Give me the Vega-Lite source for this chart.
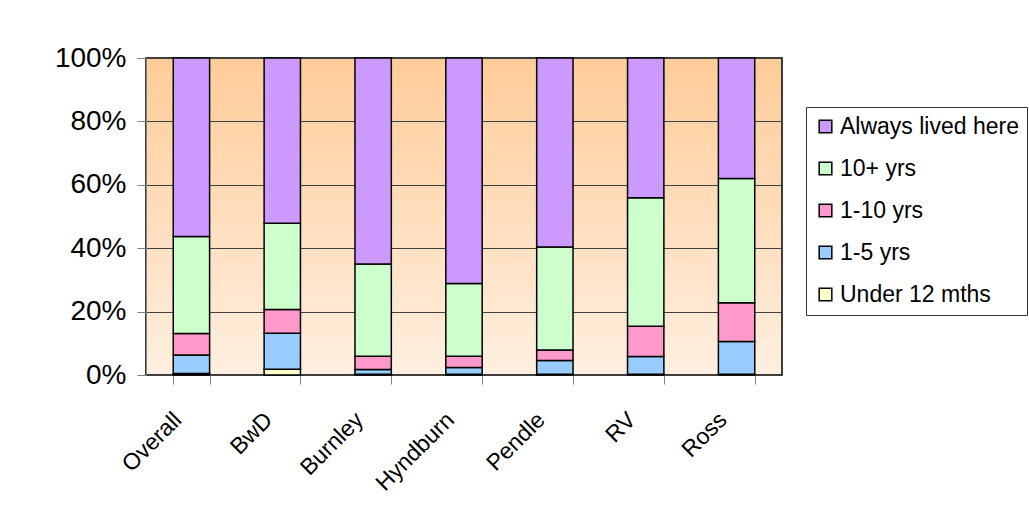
{
  "$schema": "https://vega.github.io/schema/vega-lite/v6.json",
  "autosize": {"type": "none"},
  "width": 636,
  "height": 317,
  "padding": {"left": 146, "top": 58, "right": 247, "bottom": 131},
  "background": "white",
  "config": {
    "font": "Liberation Sans",
    "view": {
      "stroke": "black",
      "strokeWidth": 1.5,
      "fill": {
        "gradient": "linear",
        "x1": 0, "y1": 0, "x2": 0, "y2": 1,
        "stops": [
          {"offset": 0, "color": "#FFCC99"},
          {"offset": 1, "color": "#FFEFE0"}
        ]
      }
    }
  },
  "data": {
    "values": [
      {"area": "Overall", "group": "Under 12 mths", "k": 0, "pct": 0.5},
      {"area": "Overall", "group": "1-5 yrs", "k": 1, "pct": 5.8},
      {"area": "Overall", "group": "1-10 yrs", "k": 2, "pct": 6.8},
      {"area": "Overall", "group": "10+ yrs", "k": 3, "pct": 30.6},
      {"area": "Overall", "group": "Always lived here", "k": 4, "pct": 56.3},
      {"area": "BwD", "group": "Under 12 mths", "k": 0, "pct": 1.8},
      {"area": "BwD", "group": "1-5 yrs", "k": 1, "pct": 11.4},
      {"area": "BwD", "group": "1-10 yrs", "k": 2, "pct": 7.5},
      {"area": "BwD", "group": "10+ yrs", "k": 3, "pct": 27.2},
      {"area": "BwD", "group": "Always lived here", "k": 4, "pct": 52.1},
      {"area": "Burnley", "group": "Under 12 mths", "k": 0, "pct": 0.2},
      {"area": "Burnley", "group": "1-5 yrs", "k": 1, "pct": 1.5},
      {"area": "Burnley", "group": "1-10 yrs", "k": 2, "pct": 4.2},
      {"area": "Burnley", "group": "10+ yrs", "k": 3, "pct": 29.1},
      {"area": "Burnley", "group": "Always lived here", "k": 4, "pct": 65.0},
      {"area": "Hyndburn", "group": "Under 12 mths", "k": 0, "pct": 0.2},
      {"area": "Hyndburn", "group": "1-5 yrs", "k": 1, "pct": 2.2},
      {"area": "Hyndburn", "group": "1-10 yrs", "k": 2, "pct": 3.5},
      {"area": "Hyndburn", "group": "10+ yrs", "k": 3, "pct": 23.0},
      {"area": "Hyndburn", "group": "Always lived here", "k": 4, "pct": 71.1},
      {"area": "Pendle", "group": "Under 12 mths", "k": 0, "pct": 0.2},
      {"area": "Pendle", "group": "1-5 yrs", "k": 1, "pct": 4.4},
      {"area": "Pendle", "group": "1-10 yrs", "k": 2, "pct": 3.3},
      {"area": "Pendle", "group": "10+ yrs", "k": 3, "pct": 32.5},
      {"area": "Pendle", "group": "Always lived here", "k": 4, "pct": 59.6},
      {"area": "RV", "group": "Under 12 mths", "k": 0, "pct": 0.2},
      {"area": "RV", "group": "1-5 yrs", "k": 1, "pct": 5.6},
      {"area": "RV", "group": "1-10 yrs", "k": 2, "pct": 9.6},
      {"area": "RV", "group": "10+ yrs", "k": 3, "pct": 40.5},
      {"area": "RV", "group": "Always lived here", "k": 4, "pct": 44.1},
      {"area": "Ross", "group": "Under 12 mths", "k": 0, "pct": 0.2},
      {"area": "Ross", "group": "1-5 yrs", "k": 1, "pct": 10.4},
      {"area": "Ross", "group": "1-10 yrs", "k": 2, "pct": 12.2},
      {"area": "Ross", "group": "10+ yrs", "k": 3, "pct": 39.2},
      {"area": "Ross", "group": "Always lived here", "k": 4, "pct": 38.0}
    ]
  },
  "mark": {"type": "bar", "stroke": "black", "strokeWidth": 1.5},
  "encoding": {
    "x": {
      "field": "area",
      "type": "nominal",
      "sort": ["Overall", "BwD", "Burnley", "Hyndburn", "Pendle", "RV", "Ross"],
      "scale": {"paddingInner": 0.6, "paddingOuter": 0.3},
      "axis": {
        "title": null,
        "labelAngle": -45,
        "labelAlign": "right",
        "labelBaseline": "middle",
        "labelFontSize": 23,
        "labelColor": "black",
        "labelPadding": 32,
        "labelOffset": -14,
        "tickBand": "extent",
        "tickSize": 9,
        "tickColor": "#808080",
        "domain": false,
        "grid": false
      }
    },
    "y": {
      "field": "pct",
      "type": "quantitative",
      "stack": "normalize",
      "scale": {"domain": [0, 1], "nice": false},
      "axis": {
        "title": null,
        "values": [0, 0.2, 0.4, 0.6, 0.8, 1],
        "format": ".0%",
        "labelFontSize": 28,
        "labelColor": "black",
        "labelPadding": 11,
        "tickSize": 9,
        "tickColor": "#808080",
        "domainColor": "#808080",
        "grid": true,
        "gridColor": "#404040",
        "gridWidth": 1
      }
    },
    "color": {
      "field": "group",
      "type": "nominal",
      "scale": {
        "domain": ["Always lived here", "10+ yrs", "1-10 yrs", "1-5 yrs", "Under 12 mths"],
        "range": ["#CC99FF", "#CCFFCC", "#FF99CC", "#99CCFF", "#FFFFCC"]
      },
      "legend": {
        "title": null,
        "orient": "none",
        "legendX": 660,
        "legendY": 49,
        "fillColor": "white",
        "strokeColor": "#333333",
        "padding": 8,
        "symbolType": "square",
        "symbolSize": 160,
        "symbolStrokeColor": "black",
        "symbolStrokeWidth": 1.5,
        "labelFontSize": 23,
        "labelColor": "black",
        "labelOffset": 3,
        "rowPadding": 18,
        "labelLimit": 400
      }
    },
    "order": {"field": "k", "type": "quantitative", "sort": "ascending"}
  }
}
